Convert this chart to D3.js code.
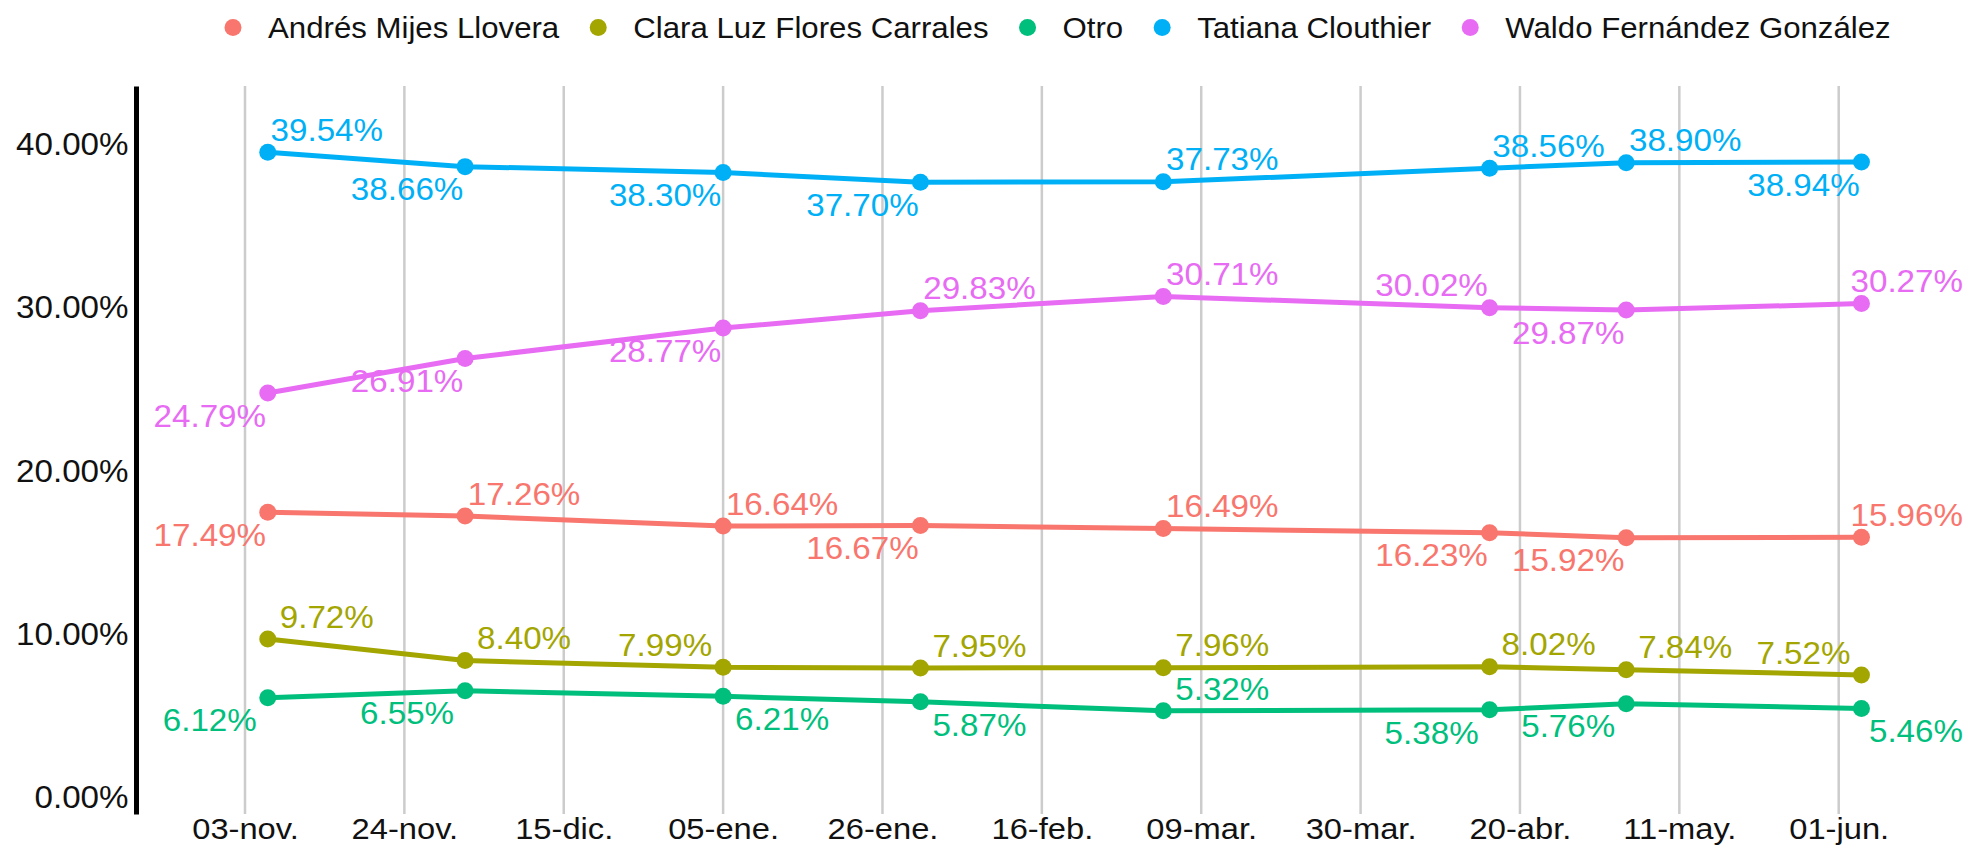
<!DOCTYPE html>
<html>
<head>
<meta charset="utf-8">
<title>Encuestas Nuevo León</title>
<script src="https://d3js.org/d3.v7.min.js"></script>
<style>
  body { margin: 0; background: #fff; }
  svg { display: block; font-family: "Liberation Sans", Arial, Helvetica, sans-serif; }
  .grid line { stroke: #cccccc; stroke-width: 2.5px; }
  .line { fill: none; stroke-width: 5px; stroke-linejoin: round; stroke-linecap: round; }
</style>
</head>
<body>
<script>
  // Data
  var candidates = ["Andrés Mijes Llovera", "Clara Luz Flores Carrales", "Otro", "Tatiana Clouthier", "Waldo Fernández González"];
  var colors = ["#F8766D", "#A3A500", "#00BF7D", "#00B0F6", "#E76BF3"];
  var pollDates = ["2020-11-06", "2020-12-02", "2021-01-05", "2021-01-31", "2021-03-04", "2021-04-16", "2021-05-04", "2021-06-04"];

  var mijes    = [17.49, 17.26, 16.64, 16.67, 16.49, 16.23, 15.92, 15.96];
  var clara    = [9.72, 8.40, 7.99, 7.95, 7.96, 8.02, 7.84, 7.52];
  var otro     = [6.12, 6.55, 6.21, 5.87, 5.32, 5.38, 5.76, 5.46];
  var tatiana  = [39.54, 38.66, 38.30, 37.70, 37.73, 38.56, 38.90, 38.94];
  var waldo    = [24.79, 26.91, 28.77, 29.83, 30.71, 30.02, 29.87, 30.27];

  var tickDates  = ["2020-11-03", "2020-11-24", "2020-12-15", "2021-01-05", "2021-01-26", "2021-02-16", "2021-03-09", "2021-03-30", "2021-04-20", "2021-05-11", "2021-06-01"];
  var tickLabels = ["03-nov.", "24-nov.", "15-dic.", "05-ene.", "26-ene.", "16-feb.", "09-mar.", "30-mar.", "20-abr.", "11-may.", "01-jun."];
  var yTicks = [0, 10, 20, 30, 40];

  // which side of the point each value label sits: u/d = up/down, l/r = left/right
  var mijesSide   = ["dl", "ur", "ur", "dl", "ur", "dl", "dl", "ur"];
  var claraSide   = ["ur", "ur", "ul", "ur", "ur", "ur", "ur", "ul"];
  var otroSide    = ["dl", "dl", "dr", "dr", "ur", "dl", "dl", "dr"];
  var tatianaSide = ["ur", "dl", "dl", "dl", "ur", "ur", "ur", "dl"];
  var waldoSide   = ["dl", "dl", "dl", "ur", "ur", "ul", "dl", "ur"];

  var allValues = [mijes, clara, otro, tatiana, waldo];
  var allSides = [mijesSide, claraSide, otroSide, tatianaSide, waldoSide];

  // Consts
  var width = 1969, height = 848;
  var panel = {left: 136, right: 1969, top: 86, bottom: 814};
  var parseDate = d3.timeParse("%Y-%m-%d");
  var stretch = "scale(1.07,1)";

  var svg = d3.select("body").append("svg")
      .attr("width", width)
      .attr("height", height);

  // Scales
  var x = d3.scaleTime()
      .domain([parseDate("2020-11-03"), parseDate("2021-06-01")])
      .range([245, 1838.7]);
  var y = d3.scaleLinear()
      .domain([-1.0, 43.6])
      .range([panel.bottom, panel.top]);

  var series = candidates.map(function(name, k) {
    return {
      name: name,
      color: colors[k],
      values: pollDates.map(function(d, i) {
        return {date: parseDate(d), value: allValues[k][i], side: allSides[k][i]};
      })
    };
  });

  // Vertical grid
  svg.append("g").attr("class", "grid")
    .selectAll("line")
    .data(tickDates)
    .enter().append("line")
      .attr("x1", function(d) { return x(parseDate(d)); })
      .attr("x2", function(d) { return x(parseDate(d)); })
      .attr("y1", panel.top)
      .attr("y2", panel.bottom);

  // axisBottom
  var xAxis = svg.append("g")
      .attr("transform", "translate(0," + panel.bottom + ")")
      .call(d3.axisBottom(x)
        .tickValues(tickDates.map(parseDate))
        .tickSize(0)
        .tickPadding(4)
        .tickFormat(function(d, i) { return tickLabels[i]; }));
  xAxis.select(".domain").remove();
  xAxis.selectAll("text")
      .attr("transform", "scale(1.09,1)")
      .style("font-size", "30px")
      .style("fill", "#111");

  // axisLeft
  var yAxis = svg.append("g")
      .attr("transform", "translate(" + panel.left + ",0)")
      .call(d3.axisLeft(y)
        .tickValues(yTicks)
        .tickSize(0)
        .tickSizeOuter(0)
        .tickPadding(7)
        .tickFormat(function(d) { return d.toFixed(2) + "%"; }));
  yAxis.select(".domain")
      .style("stroke", "#000")
      .style("stroke-width", "5px");
  yAxis.selectAll("text")
      .attr("transform", stretch)
      .style("font-size", "31px")
      .style("fill", "#111");

  // Lines
  var line = d3.line()
      .x(function(d) { return x(d.date); })
      .y(function(d) { return y(d.value); });

  svg.append("g").selectAll("path")
    .data(series)
    .enter().append("path")
      .attr("class", "line")
      .attr("d", function(d) { return line(d.values); })
      .style("stroke", function(d) { return d.color; });

  // Points
  svg.append("g").selectAll("g")
    .data(series)
    .enter().append("g")
      .style("fill", function(d) { return d.color; })
    .selectAll("circle")
    .data(function(d) { return d.values; })
    .enter().append("circle")
      .attr("cx", function(d) { return x(d.date); })
      .attr("cy", function(d) { return y(d.value); })
      .attr("r", 8.5);

  // Value labels
  svg.append("g").selectAll("g")
    .data(series)
    .enter().append("g")
      .style("fill", function(d) { return d.color; })
    .selectAll("text")
    .data(function(d) { return d.values; })
    .enter().append("text")
      .attr("text-anchor", "middle")
      .attr("dy", "0.36em")
      .style("font-size", "31px")
      .text(function(d) { return d.value.toFixed(2) + "%"; })
      .attr("transform", function(d) {
        var w = this.getComputedTextLength() * 1.07;
        var cx = x(d.date) + (d.side[1] == "r" ? 59 : -58);
        var cy = y(d.value) + (d.side[0] == "u" ? -22.5 : 22.5);
        if (cx + w / 2 > width - 6) cx = width - 6 - w / 2;
        return "translate(" + cx + "," + cy + ") " + stretch;
      });

  // Legend
  var legend = svg.append("g").attr("transform", "translate(0,27)");
  var lx = 233;
  series.forEach(function(s) {
    legend.append("circle")
        .attr("cx", lx)
        .attr("cy", 0.5)
        .attr("r", 8.5)
        .style("fill", s.color);
    var t = legend.append("text")
        .attr("transform", "translate(" + (lx + 35) + ",0) scale(1.04,1)")
        .attr("dy", "0.36em")
        .style("font-size", "30px")
        .style("fill", "#111")
        .text(s.name);
    lx = lx + 35 + t.node().getComputedTextLength() * 1.04 + 39;
  });
</script>
</body>
</html>
